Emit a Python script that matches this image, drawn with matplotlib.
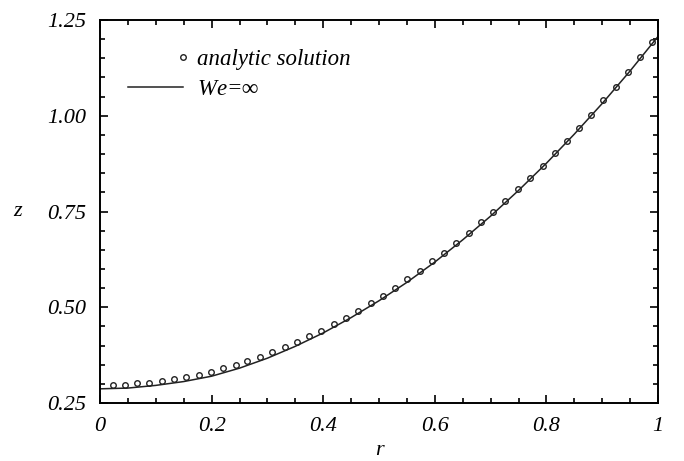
import numpy as np
import matplotlib
matplotlib.use("Agg")
import matplotlib.pyplot as plt
from matplotlib.legend_handler import HandlerLine2DCompound
from matplotlib.ticker import MultipleLocator, FixedLocator

plt.rcParams['font.family'] = ['Liberation Serif', 'DejaVu Serif']
plt.rcParams['font.style'] = 'italic'
plt.rcParams['mathtext.fontset'] = 'custom'
plt.rcParams['mathtext.it'] = 'Liberation Serif:italic'

# analytic solution (circles)
r_analytic = [0.0227, 0.0448, 0.0668, 0.0883, 0.1110, 0.1330, 0.1550, 0.1770, 0.1990,
              0.2210, 0.2430, 0.2640, 0.2860, 0.3088, 0.3310, 0.3530, 0.3751, 0.3966,
              0.4188, 0.4409, 0.4629, 0.4852, 0.5072, 0.5287, 0.5505, 0.5729, 0.5950,
              0.6165, 0.6386, 0.6607, 0.6828, 0.7043, 0.7264, 0.7485, 0.7706, 0.7934,
              0.8149, 0.8369, 0.8590, 0.8805, 0.9020, 0.9247, 0.9468, 0.9683, 0.9898]
z_analytic = [0.298, 0.298, 0.301, 0.303, 0.307, 0.312, 0.318, 0.324, 0.331,
              0.341, 0.349, 0.359, 0.370, 0.383, 0.395, 0.409, 0.424, 0.438,
              0.455, 0.472, 0.491, 0.510, 0.530, 0.551, 0.573, 0.595, 0.620,
              0.642, 0.668, 0.694, 0.722, 0.749, 0.777, 0.808, 0.838, 0.870,
              0.902, 0.935, 0.969, 1.003, 1.040, 1.076, 1.115, 1.153, 1.192]

# We = infinity (solid line)
r_line = [0.00, 0.05, 0.10, 0.15, 0.20, 0.25, 0.30, 0.35, 0.40, 0.45, 0.50,
          0.55, 0.60, 0.65, 0.70, 0.75, 0.80, 0.85, 0.90, 0.95, 1.00]
z_line = [0.287, 0.289, 0.296, 0.306, 0.320, 0.341, 0.367, 0.398, 0.433, 0.473, 0.517,
          0.565, 0.618, 0.676, 0.738, 0.805, 0.876, 0.952, 1.032, 1.117, 1.207]

x_ticks = [0, 0.2, 0.4, 0.6, 0.8, 1.0]
x_ticklabels = ['0', '0.2', '0.4', '0.6', '0.8', '1']
y_ticks = [0.25, 0.50, 0.75, 1.00, 1.25]
y_ticklabels = ['0.25', '0.50', '0.75', '1.00', '1.25']


class MarkerAtEnd(HandlerLine2DCompound):
    # put the single legend marker at the right end of the handle
    def get_xdata(self, legend, xdescent, ydescent, width, height, fontsize):
        xdata, _ = super().get_xdata(legend, xdescent, ydescent, width, height, fontsize)
        return xdata, [-xdescent + width]


fig = plt.figure(figsize=(6.84, 4.61), dpi=100)
ax = fig.add_axes([0.1462, 0.1258, 0.8158, 0.8308])

ax.plot(r_analytic, z_analytic, linestyle='none', marker='o', markersize=4,
        markerfacecolor='white', markeredgecolor='#222222', markeredgewidth=1.0,
        label='analytic solution')
ax.plot(r_line, z_line, color='#222222', linewidth=1.1, label=r'$We$=∞')

ax.set_xlim(0, 1)
ax.set_ylim(0.25, 1.25)
ax.xaxis.set_major_locator(FixedLocator(x_ticks))
ax.set_xticklabels(x_ticklabels)
ax.yaxis.set_major_locator(FixedLocator(y_ticks))
ax.set_yticklabels(y_ticklabels)
ax.xaxis.set_minor_locator(MultipleLocator(0.05))
ax.yaxis.set_minor_locator(MultipleLocator(0.05))

ax.tick_params(which='both', direction='in', top=True, right=True, width=1.2, labelsize=16)
ax.tick_params(which='major', length=6, pad=10)
ax.tick_params(which='minor', length=3.5)
for sp in ax.spines.values():
    sp.set_linewidth(1.4)

ax.set_xlabel('r', fontsize=16)
ax.set_ylabel('z', fontsize=16, rotation=0, va='center', ha='center')
ax.xaxis.set_label_coords(0.5, -0.1)
ax.yaxis.set_label_coords(-0.148, 0.5)

leg = ax.legend(loc='upper left', bbox_to_anchor=(0.013, 0.977), frameon=False, fontsize=16.5,
                handlelength=2.4, handletextpad=0.6, labelspacing=0.35, numpoints=1,
                handler_map={plt.Line2D: MarkerAtEnd()})

fig.savefig('out.png', dpi=100)
